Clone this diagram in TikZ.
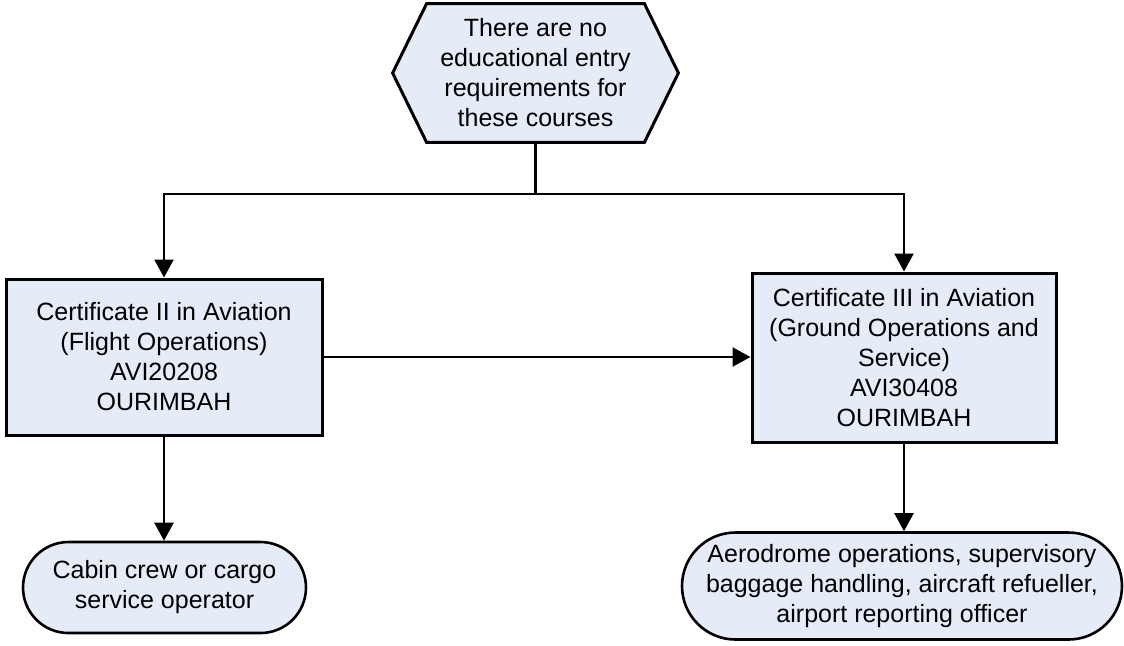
\documentclass[tikz,border=0pt]{standalone}
\usepackage{fontspec}
\setmainfont{Liberation Sans}
\usetikzlibrary{arrows.meta,shapes.misc,backgrounds}
\definecolor{boxfill}{RGB}{230,236,247}
\tikzset{
  txt/.style={font=\fontsize{12.5pt}{15pt}\selectfont, align=center, inner sep=0pt},
  procbox/.style={txt, draw=black, line width=1.5pt, fill=boxfill, rectangle},
  termbox/.style={txt, draw=black, line width=1.3pt, fill=boxfill, rounded rectangle},
  conn/.style={line width=1.2pt, draw=black},
  arr/.style={conn, -{Triangle[length=9pt,width=9.5pt]}}
}
\begin{document}
\begin{tikzpicture}[x=0.5pt,y=-0.5pt]
\useasboundingbox (0,0) rectangle (1124,645);
% hexagon (start)
\node[txt, minimum width=142.5pt, minimum height=69pt] (hex) at (535.5,73)
  {There are no\\educational entry\\requirements for\\these courses};
\begin{scope}[on background layer]
\filldraw[fill=boxfill, draw=black, line width=1.5pt, line join=miter]
  (hex.west) -- ([xshift=17pt]hex.north west) -- ([xshift=-17pt]hex.north east)
  -- (hex.east) -- ([xshift=-17pt]hex.south east) -- ([xshift=17pt]hex.south west) -- cycle;
\end{scope}
% process boxes
\node[procbox, minimum width=158pt, minimum height=78pt] (b1) at (164,357)
  {Certificate II in Aviation\\(Flight Operations)\\AVI20208\\OURIMBAH};
\node[procbox, minimum width=152pt, minimum height=84.5pt] (b2) at (904,357.5)
  {Certificate III in Aviation\\(Ground Operations and\\Service)\\AVI30408\\OURIMBAH};
% terminators
\node[termbox, minimum width=141.5pt, minimum height=45.5pt] (s1) at (164.5,587.5)
  {Cabin crew or cargo\\service operator};
\node[termbox, minimum width=220pt, minimum height=53.5pt] (s2) at (902,586)
  {Aerodrome operations, supervisory\\baggage handling, aircraft refueller,\\airport reporting officer};
% connectors
\coordinate (j) at (535.5,194);
\draw[conn] (hex.south) -- (j);
\draw[arr] (j) -| (b1.north);
\draw[arr] (j) -| (b2.north);
\draw[arr] (b1.east) -- (b1.east -| b2.west);
\draw[arr] (b1.south) -- (b1.south |- s1.north);
\draw[arr] (b2.south) -- (b2.south |- s2.north);
\end{tikzpicture}
\end{document}
